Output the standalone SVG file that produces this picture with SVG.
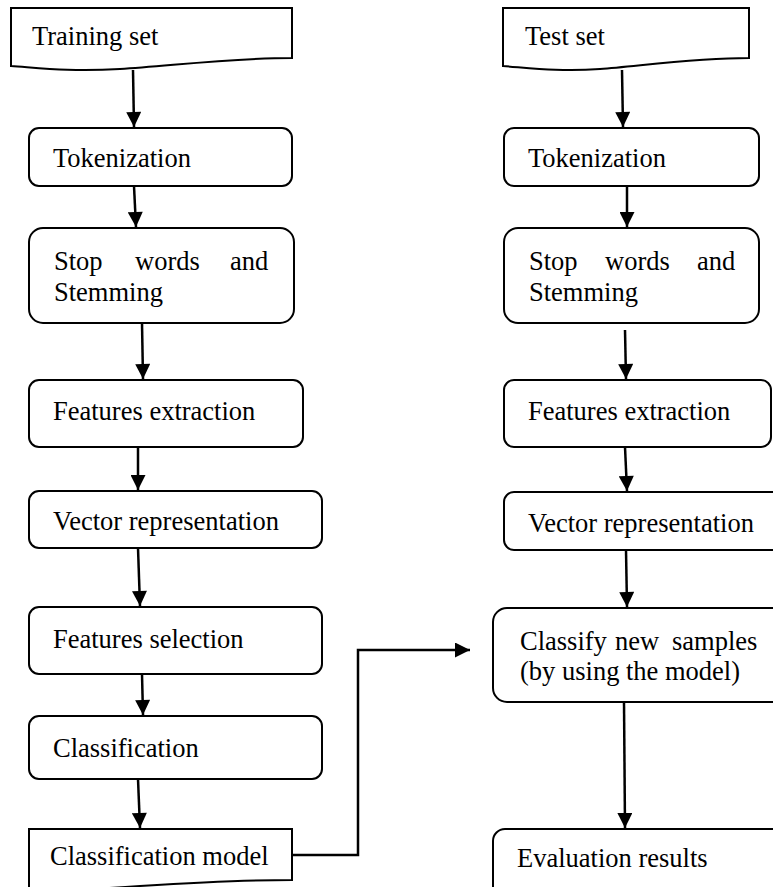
<svg xmlns="http://www.w3.org/2000/svg" width="773" height="887" viewBox="0 0 773 887">
<style>
.box{fill:#fff;stroke:#000;stroke-width:2}
.t{font-family:"Liberation Serif","Times New Roman",serif;font-size:26.5px;fill:#000}
.c{fill:none;stroke:#000;stroke-width:2.5}
</style>
<defs>
<marker id="ah" viewBox="0 0 10 10" refX="10" refY="5" markerWidth="16" markerHeight="15" markerUnits="userSpaceOnUse" orient="auto">
<path d="M0,0 L10,5 L0,10 z" fill="#000"/>
</marker>
</defs>
<rect width="773" height="887" fill="#fff"/>
<g id="training-set">
<path class="box" d="M11,8 H292 V58 C230,58 170,66 120,69 C70,72 40,68 11,66 Z"/>
<text class="t" x="32" y="45">Training set</text>
</g>
<g id="tokenization-l">
<rect class="box" x="29" y="128" width="263" height="58" rx="10"/>
<text class="t" x="53" y="167">Tokenization</text>
</g>
<g id="stopwords-l">
<rect class="box" x="29" y="228" width="265" height="95" rx="14"/>
<text class="t" y="270"><tspan x="54">Stop</tspan><tspan x="135">words</tspan><tspan x="230">and</tspan></text>
<text class="t" x="54" y="301">Stemming</text>
</g>
<g id="features-extraction-l">
<rect class="box" x="29" y="380" width="274" height="67" rx="10"/>
<text class="t" x="53" y="420">Features extraction</text>
</g>
<g id="vector-l">
<rect class="box" x="29" y="491" width="293" height="57" rx="10"/>
<text class="t" x="53" y="530">Vector representation</text>
</g>
<g id="features-selection">
<rect class="box" x="29" y="607" width="293" height="67" rx="10"/>
<text class="t" x="53" y="648">Features selection</text>
</g>
<g id="classification">
<rect class="box" x="29" y="716" width="293" height="63" rx="10"/>
<text class="t" x="53" y="757">Classification</text>
</g>
<g id="classification-model">
<path class="box" d="M29,829 H292 V880 C240,880 190,883 140,886 C90,889 60,892 29,894 Z"/>
<text class="t" x="50" y="865">Classification model</text>
</g>
<g id="test-set">
<path class="box" d="M503,8 H749 V58 C695,58 640,66 600,69 C560,72 530,68 503,66 Z"/>
<text class="t" x="525" y="45">Test set</text>
</g>
<g id="tokenization-r">
<rect class="box" x="504" y="128" width="255" height="58" rx="10"/>
<text class="t" x="528" y="167">Tokenization</text>
</g>
<g id="stopwords-r">
<rect class="box" x="504" y="228" width="255" height="95" rx="14"/>
<text class="t" y="270"><tspan x="529">Stop</tspan><tspan x="605">words</tspan><tspan x="697">and</tspan></text>
<text class="t" x="529" y="301">Stemming</text>
</g>
<g id="features-extraction-r">
<rect class="box" x="504" y="380" width="267" height="67" rx="10"/>
<text class="t" x="528" y="420">Features extraction</text>
</g>
<g id="vector-r">
<rect class="box" x="504" y="492" width="280" height="58" rx="10"/>
<text class="t" x="528" y="532">Vector representation</text>
</g>
<g id="classify-new">
<rect class="box" x="493" y="608" width="295" height="94" rx="14"/>
<text class="t" y="650"><tspan x="520">Classify</tspan><tspan x="615">new</tspan><tspan x="672">samples</tspan></text>
<text class="t" x="520" y="680">(by using the model)</text>
</g>
<g id="evaluation">
<rect class="box" x="493" y="829" width="295" height="80" rx="12"/>
<text class="t" x="517" y="867">Evaluation results</text>
</g>
<g id="connectors">
<path class="c" d="M133,70 L134,127" marker-end="url(#ah)"/>
<path class="c" d="M134,186 L136,227" marker-end="url(#ah)"/>
<path class="c" d="M142,323 L143,379" marker-end="url(#ah)"/>
<path class="c" d="M138,447 L138,490" marker-end="url(#ah)"/>
<path class="c" d="M138,548 L140,606" marker-end="url(#ah)"/>
<path class="c" d="M142,674 L143,715" marker-end="url(#ah)"/>
<path class="c" d="M138,779 L140,828" marker-end="url(#ah)"/>
<path class="c" d="M292,855 H358 V650 H470" marker-end="url(#ah)"/>
<path class="c" d="M622,70 L623,127" marker-end="url(#ah)"/>
<path class="c" d="M627,186 L627,227" marker-end="url(#ah)"/>
<path class="c" d="M625,330 L626,379" marker-end="url(#ah)"/>
<path class="c" d="M625,447 L627,491" marker-end="url(#ah)"/>
<path class="c" d="M626,550 L627,607" marker-end="url(#ah)"/>
<path class="c" d="M624,702 L625,828" marker-end="url(#ah)"/>
</g>
</svg>
